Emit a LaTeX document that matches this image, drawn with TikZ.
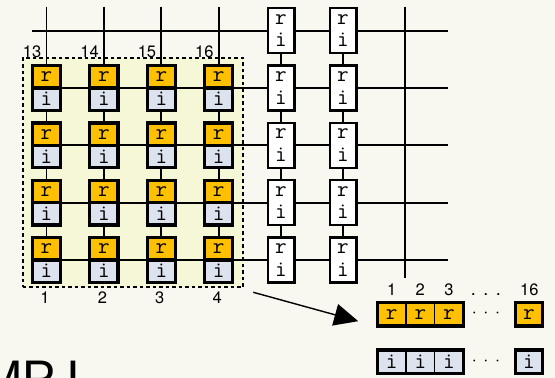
\documentclass[tikz,border=0pt]{standalone}
\usepackage{fontspec}
\newfontfamily\labfont{TeX Gyre Heros}
\newfontfamily\mpifont{Liberation Sans}
\usetikzlibrary{arrows.meta,calc}
\pgfdeclarelayer{bg}
\pgfdeclarelayer{lines}
\pgfsetlayers{bg,lines,main}
\definecolor{bgc}{HTML}{F8F7F0}
\definecolor{regc}{HTML}{F6F7D7}
\definecolor{rcol}{HTML}{FFC000}
\definecolor{icol}{HTML}{DCE3EE}
\newcommand\cellfont{\fontsize{22.5}{22.5}\selectfont\ttfamily}
\begin{document}
\begin{tikzpicture}[x=1pt,y=-1pt,
  grid/.style={line width=1.8pt},
  cellr/.style={draw, line width=3.3pt, fill=rcol, minimum width=28.2pt,
    minimum height=22.4pt, inner sep=0pt, outer sep=0pt, font=\cellfont},
  celli/.style={cellr, fill=icol},
  wbox/.style={draw, line width=2.2pt, fill=white, minimum width=26.8pt,
    minimum height=45pt, inner sep=0pt, outer sep=0pt, align=center, font=\cellfont},
  arrr/.style={draw, line width=1.4pt, fill=rcol, minimum width=28.7pt,
    minimum height=23.7pt, inner sep=0pt, outer sep=0pt, font=\cellfont},
  arri/.style={arrr, fill=icol},
  thickbox/.style={line width=3.3pt},
  lab/.style={font=\labfont\fontsize{16.5}{16.5}\selectfont, inner sep=0pt},
  dotsn/.style={font=\labfont\fontsize{18}{18}\selectfont, inner sep=0pt},
  region/.style={draw, fill=regc, line width=2pt, dash pattern=on 3.5pt off 3pt,
    minimum width=220.6pt, minimum height=229pt, inner sep=0pt, outer sep=0pt},
  bigarrow/.style={line width=1.4pt, -{Triangle[length=24pt,width=22pt]}}
]
\useasboundingbox (0,0) rectangle (555,378);
\begin{pgfonlayer}{bg}
  \fill[bgc] (0,0) rectangle (555,378);
  \node[region] (region) at (133,172.8) {};
\end{pgfonlayer}

% coordinates for grid line ends
\foreach \j/\y in {1/30.7,2/88,3/145.3,4/202.6,5/260} {
  \coordinate (hl\j) at (32,\y);
  \coordinate (hr\j) at (448.3,\y);
}
\foreach \i/\x in {1/46.5,2/103.9,3/161.3,4/218.7} {
  \coordinate (vt\i) at (\x,6.7);
}
\coordinate (vt5) at (405,6.7);
\coordinate (vb5) at (405,278.3);

% coloured cells
\foreach \i/\x in {1/46.5,2/103.9,3/161.3,4/218.7} {
  \foreach \j/\y in {2/88,3/145.3,4/202.6,5/260} {
    \node[cellr, anchor=south] (c\i-\j-r) at (\x,\y) {r};
    \node[celli, anchor=north] (c\i-\j-i) at (\x,\y) {i};
  }
}
% white boxes
\foreach \i/\x in {1/281,2/343} {
  \foreach \j/\y in {1/30.7,2/88,3/145.3,4/202.6,5/260} {
    \node[wbox] (w\i-\j) at (\x,\y) {r\\i};
  }
}

\begin{pgfonlayer}{lines}
  \foreach \j in {1,...,5} \draw[grid] (hl\j) -- (hr\j);
  \foreach \i in {1,...,4} \draw[grid] (vt\i) -- (c\i-5-i);
  \foreach \i in {1,2} \draw[grid] (w\i-1) -- (w\i-5);
  \draw[grid] (vt5) -- (vb5);
\end{pgfonlayer}

% labels of the block
\foreach \n/\x in {13/46.5,14/103.9,15/161.3,16/218.7}
  \node[lab, anchor=base east] (t\n) at (\x-5,57.8) {\n};
\foreach \n/\x in {1/46.5,2/103.9,3/161.3,4/218.7}
  \node[lab] (b\n) at (\x-1.5,298) {\n};

% linear array
\foreach \k/\x in {1/391.6,2/420.3,3/449.0} {
  \node[arrr] (ra\k) at (\x,314.2) {r};
  \node[arri] (ia\k) at (\x,361.7) {i};
  \node[lab] (la\k) at (\x,289.5) {\k};
}
\node[arrr, minimum width=27pt] (ra16) at (529,314.2) {r};
\node[arri, minimum width=27pt] (ia16) at (529,361.7) {i};
\draw[thickbox] (ra16.north west) rectangle (ra16.south east);
\draw[thickbox] (ia16.north west) rectangle (ia16.south east);
\draw[thickbox] (ra1.north west) rectangle (ra3.south east);
\draw[thickbox] (ia1.north west) rectangle (ia3.south east);
\node[lab] (la16) at (529.3,289.5) {16};
\node[dotsn, anchor=base] (ldots) at (486,295) {.\kern7.5pt.\kern7.5pt.};
\node[dotsn] (rdots) at (486,315) {·\kern6.5pt·\kern6.5pt·};
\node[dotsn] (idots) at (486,363) {·\kern6.5pt·\kern6.5pt·};

% arrow
\coordinate (arrS) at ($(region.south east)+(10,5)$);
\coordinate (arrE) at ($(ra1.west)+(-19,7)$);
\draw[bigarrow] (arrS) -- (arrE);

% MPI title (cut by the lower edge, as in the reference)
\begin{scope}
  \clip (0,0) rectangle (555,378);
  \node[anchor=base west, inner sep=0pt, font=\mpifont\fontsize{50}{50}\selectfont] (mpi) at (-19,395.1) {MP\kern10ptI};
\end{scope}
\end{tikzpicture}
\end{document}
